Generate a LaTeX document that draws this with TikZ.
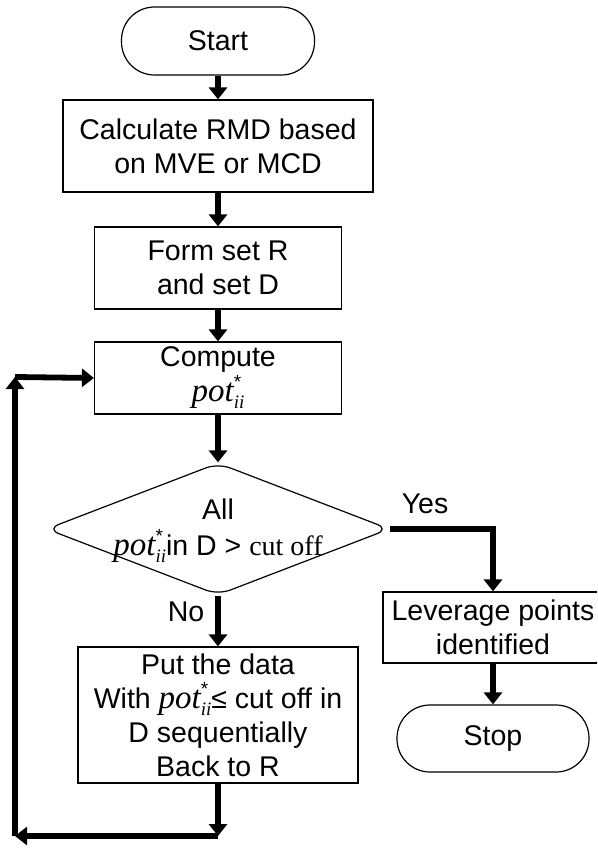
\documentclass[tikz,border=0pt]{standalone}
\usepackage{fontspec}
\setmainfont{Liberation Sans}
\newfontfamily\timesfont{Liberation Serif}
\usetikzlibrary{shapes.geometric, arrows.meta}

% pot*_ii written as in the figure
\newcommand{\potii}{{\timesfont\itshape\fontsize{33}{33}\selectfont pot}\rlap{\raisebox{13pt}{\fontsize{19}{19}\selectfont *}}\raisebox{-7pt}{\timesfont\itshape\fontsize{19}{19}\selectfont ii}}

\tikzset{
  procbox/.style={draw, line width=1.2pt, rectangle, align=center, inner sep=0pt},
  termbox/.style={draw, line width=1.2pt, rectangle, rounded corners=33pt, inner sep=0pt},
  testbox/.style={draw, line width=1.2pt, diamond, rounded corners=13pt, inner sep=0pt},
  flow/.style={line width=5.8pt, -{Triangle[width=18pt,length=12pt]}},
}

\begin{document}
\begin{tikzpicture}[x=1pt, y=-1pt, font=\fontsize{28.5}{34}\selectfont]
  \clip (0,0) rectangle (597,848);
  % main column
  \node[termbox, minimum width=193pt, minimum height=68pt] (start) at (218,41) {Start};
  \node[procbox, minimum width=310pt, minimum height=92pt] (calc) at (218,146) {Calculate RMD based\\on MVE or MCD};
  \node[procbox, minimum width=247pt, minimum height=82pt] (form) at (218,268) {Form set R\\and set D};
  \node[procbox, minimum width=247pt, minimum height=72pt] (comp) at (218,378) {Compute\\[1pt]\potii};
  \node[testbox, minimum width=343pt, minimum height=132pt] (test) at (218,529)
    {\makebox[0pt]{\raisebox{-8pt}[0pt][0pt]{\begin{tabular}{@{}c@{}}All\\\potii{}in D > {\timesfont\fontsize{28}{28}\selectfont cut off}\end{tabular}}}};
  \node[procbox, minimum width=280pt, minimum height=136pt] (put) at (218,715)
    {Put the data\\With \potii{}≤ cut off in\\D sequentially\\Back to R};
  % yes branch
  \node[procbox, minimum width=220pt, minimum height=71pt] (lev) at (493,627.5) {Leverage points\\identified};
  \node[termbox, minimum width=192pt, minimum height=67pt] (stop) at (493,738.5) {Stop};
  \node (yes) at (425,504) {Yes};
  \node (no) at (186,612) {No};
  % connectors
  \draw[flow] (start) -- (calc);
  \draw[flow] (calc) -- (form);
  \draw[flow] (form) -- (comp);
  \draw[flow] (comp) -- (test);
  \draw[flow] (test) -- (put);
  \draw[flow] (test.east) -| (lev.north);
  \draw[flow] (lev) -- (stop);
  % loop back
  \coordinate (c1) at (218,836);
  \coordinate (c2) at (15,836);
  \coordinate (c3) at (15,377);
  \draw[flow] (put.south) -- (c1);
  \draw[flow] (c1) -- (c2);
  \draw[flow] (c2) -- (c3);
  \draw[flow] (c3) -- (comp.west);
\end{tikzpicture}
\end{document}
